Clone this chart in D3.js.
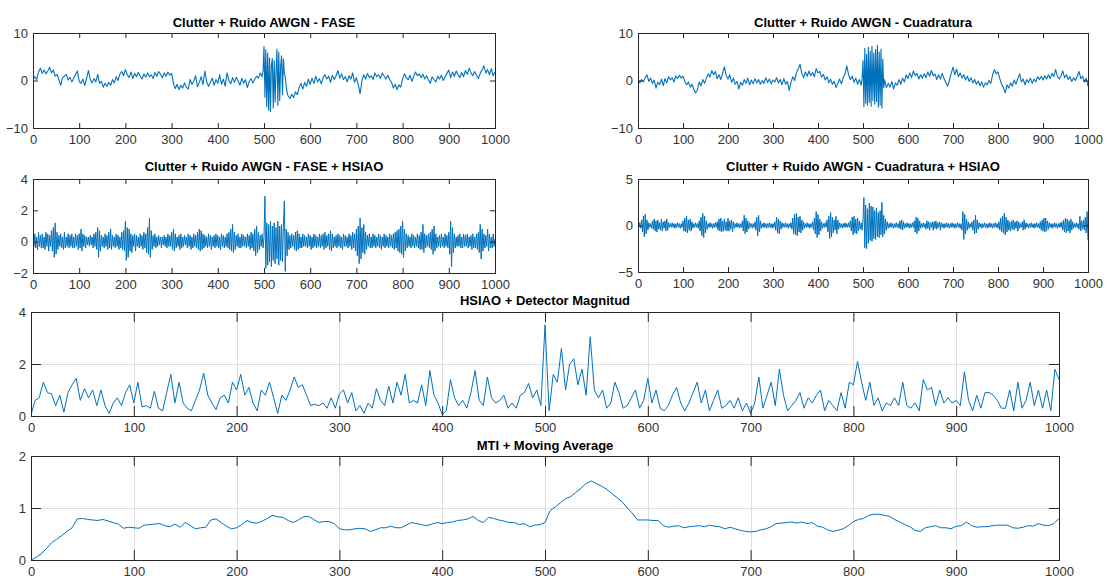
<!DOCTYPE html>
<html><head><meta charset="utf-8">
<script src="https://cdn.jsdelivr.net/npm/d3@7"></script>
<style>
body{margin:0;background:#fff}
svg{display:block}
text{font-family:"Liberation Sans",Arial,Helvetica,sans-serif}
</style>
</head><body>
<svg id="chart" width="1116" height="580"></svg>
<script>
// ---------- data ----------
const xTickVals = [0,100,200,300,400,500,600,700,800,900,1000];
const yTicksFase = [-10,0,10];
const yTicksCuad = [-10,0,10];
const yTicksFaseH = [-2,0,2,4];
const yTicksCuadH = [-5,0,5];
const yTicksMag = [0,2,4];
const yTicksMti = [0,1,2];

const titles = [
  "Clutter + Ruido AWGN - FASE",
  "Clutter + Ruido AWGN - Cuadratura",
  "Clutter + Ruido AWGN - FASE + HSIAO",
  "Clutter + Ruido AWGN - Cuadratura + HSIAO",
  "HSIAO + Detector Magnitud",
  "MTI + Moving Average"
];

// sample indices of the values below
const idxBurst = [...d3.range(0,496,4), ...d3.range(496,552,2), ...d3.range(552,1001,4)];
const idxStep2 = d3.range(0,1001,2);
const idxStep4 = d3.range(0,1001,4);
const idxStep5 = d3.range(0,1001,5);

const faseVals = [
 0.3,0.8,0.2,1.8,2.6,1.5,2.2,1.4,2.0,2.8,
 1.6,2.2,0.9,1.3,0.2,-1.0,0.6,0.9,1.3,0.1,
 0.7,-0.3,0.5,1.2,2.0,-0.2,-0.6,0.3,-1.1,0.5,
 2.1,0.2,-0.5,0.4,-0.3,1.3,-0.6,-0.2,-1.4,-0.6,
 -1.2,-0.4,-1.0,0.2,-0.5,0.8,0.0,1.3,1.9,1.0,
 2.3,1.2,0.6,1.8,0.4,1.5,0.8,1.7,0.9,0.3,
 1.4,0.7,1.6,0.8,1.2,0.4,1.7,0.9,1.9,1.3,
 0.6,1.6,0.9,1.8,1.1,1.5,-0.6,-1.7,-0.8,-1.9,
 -1.0,-1.6,-0.5,-1.4,-1.8,0.2,-0.8,-0.2,1.0,-1.3,
 -0.4,0.8,-0.9,2.0,-0.3,-1.2,-0.4,0.5,-1.0,0.2,
 -0.6,1.2,-0.8,0.3,-1.2,1.6,0.0,-0.7,0.6,-0.4,
 0.7,-0.1,-1.0,0.5,-0.6,0.2,-1.5,-0.2,0.4,-0.5,
 0.3,0.9,0.5,1.6,
 0.8,2.0,7.2,-3.5,6.5,-5.5,5.8,-6.2,4.8,-6.5,3.2,4.6,-5.8,4.2,-4.5,2.0,6.6,-5.2,6.0,-4.2,3.0,5.2,-3.0,4.5,1.5,0.8,-1.2,-2.5,
 -3.2,-3.8,-2.9,-3.6,-2.4,-3.0,-1.5,-0.6,-1.8,-0.4,
 -1.2,0.3,-0.8,0.5,-0.6,0.9,-0.3,0.4,-0.7,0.6,
 1.2,0.3,0.9,-0.4,1.1,0.2,1.0,2.1,0.5,1.4,
 0.2,0.8,-0.3,1.0,0.3,1.6,-0.4,0.6,-0.8,-2.8,
 0.0,1.2,0.3,1.5,0.6,1.0,0.2,1.6,0.8,1.2,
 0.4,1.6,0.9,0.3,1.1,0.2,-0.4,-1.6,-0.8,-1.9,
 -0.9,-1.4,0.3,1.4,0.6,0.2,1.1,-0.2,0.9,1.8,
 1.0,1.4,0.6,1.3,0.3,1.0,0.1,-0.6,0.8,0.2,
 -0.3,0.9,0.3,1.1,0.0,0.8,1.5,2.2,0.6,1.8,
 0.9,2.0,1.2,0.6,1.7,0.8,2.1,1.3,2.6,1.6,
 1.0,1.9,1.1,0.4,1.5,2.2,3.1,1.6,2.3,1.2,
 2.5,1.0,1.8
];

const cuadVals = [
 0.4,-0.5,0.2,-0.3,0.6,1.2,-0.2,0.5,-0.6,0.1,
 -1.6,-0.3,-0.9,0.3,-1.1,0.4,-0.5,0.8,0.1,0.6,
 -0.3,1.0,0.4,1.1,0.5,0.9,-0.2,-0.9,-0.3,-1.4,
 -0.8,-1.9,-2.6,-2.0,-0.3,-1.1,0.2,-0.6,0.5,1.4,
 0.7,2.1,1.2,1.9,0.4,1.2,0.2,1.5,2.9,1.0,
 0.3,1.2,-0.4,0.5,-0.8,-0.2,-1.8,-0.4,-1.0,0.2,
 -0.6,0.5,-0.9,0.1,-0.7,0.4,-0.5,0.2,-0.8,0.0,
 -0.6,0.6,-0.4,0.3,-0.7,0.1,-0.3,0.6,-0.5,0.2,
 -0.9,0.4,-0.8,-0.2,-2.1,-0.4,0.8,0.0,1.6,2.4,
 3.4,1.5,0.6,1.8,0.9,2.0,1.0,1.7,0.8,2.5,
 1.6,1.9,0.7,1.3,0.1,0.8,-0.5,0.3,-0.8,-0.2,
 -1.5,-0.6,0.3,-0.7,0.6,1.4,3.1,1.2,0.2,0.9,
 -0.4,0.5,-0.8,0.2,
 -1.0,0.5,4.2,-5.5,6.8,-4.8,5.5,-5.2,7.0,-4.6,6.2,-5.4,7.2,-4.2,5.8,-5.0,6.5,-4.4,7.4,-5.6,6.0,-5.2,6.6,-5.8,4.5,-1.5,0.2,-0.8,
 -1.5,-0.6,-1.4,-0.2,-1.8,-0.5,-1.0,0.2,-0.8,0.5,
 -0.3,1.2,0.4,1.6,0.6,2.0,1.0,1.5,0.3,1.2,
 0.5,1.4,0.6,1.8,0.9,2.1,1.0,1.4,0.2,1.2,
 0.3,1.5,0.4,-0.4,-1.2,0.0,1.5,2.8,1.2,2.4,
 0.8,1.6,0.5,1.2,0.1,0.9,-0.2,0.6,-0.5,0.2,
 -0.8,-0.1,-1.1,-0.3,-1.4,-0.5,-0.9,0.0,-0.6,1.2,
 2.3,1.4,1.8,0.4,-0.8,-1.5,-2.6,-0.9,-1.6,-0.5,
 -1.2,0.1,-0.8,0.4,1.4,-0.3,0.3,-0.9,0.2,-0.4,
 0.5,-0.6,0.3,-0.3,0.8,0.2,0.9,0.1,1.0,0.3,
 1.2,0.4,1.5,0.8,2.3,0.9,0.3,1.0,2.0,0.6,
 1.2,0.2,0.8,-0.2,0.6,0.0,0.9,1.9,0.4,0.9,
 -0.3,0.5,-1.2
];

// every 2 samples
const faseHsiaoVals = [
 0.4,-0.3,0.5,-0.4,0.3,-0.5,0.6,-0.3,0.4,-0.4,
 0.5,-0.4,0.3,-0.5,0.6,-0.3,0.5,-0.6,0.4,-0.3,
 0.7,-0.6,0.9,-1.0,1.2,-0.8,0.6,-0.5,0.4,-0.3,
 0.5,-0.4,0.3,-0.5,0.6,-0.4,0.3,-0.3,0.5,-0.4,
 0.4,-0.3,0.5,-0.4,0.3,-0.4,0.5,-0.3,0.4,-0.5,
 0.5,-0.4,0.8,-0.6,0.5,-0.3,0.4,-0.4,0.3,-0.2,
 0.3,-0.3,0.4,-0.2,0.3,-0.4,0.5,-0.3,0.6,-0.5,
 0.9,-1.0,0.7,-0.6,0.4,-0.3,0.3,-0.4,0.5,-0.3,
 0.4,-0.5,0.6,-0.4,0.8,-0.5,0.4,-0.3,0.3,-0.4,
 0.5,-0.3,0.4,-0.5,0.3,-0.4,0.6,-0.5,0.7,-0.6,
 1.3,-1.2,0.9,-1.0,0.8,-0.6,0.5,-0.7,0.4,-0.3,
 0.5,-0.6,0.4,-0.3,0.3,-0.4,0.5,-0.3,0.4,-0.5,
 0.6,-0.4,0.5,-0.7,0.9,-0.8,1.5,-1.0,0.7,-0.5,
 0.4,-0.3,0.5,-0.4,0.3,-0.3,0.4,-0.2,0.3,-0.4,
 0.3,-0.2,0.4,-0.3,0.3,-0.4,0.5,-0.3,0.4,-0.3,
 0.6,-0.5,0.8,-0.6,0.5,-0.4,0.3,-0.3,0.4,-0.5,
 0.5,-0.4,0.3,-0.3,0.4,-0.2,0.3,-0.4,0.5,-0.3,
 0.4,-0.5,0.3,-0.4,0.5,-0.3,0.4,-0.4,0.6,-0.5,
 0.8,-0.6,0.7,-0.5,0.5,-0.4,0.4,-0.3,0.3,-0.4,
 0.5,-0.3,0.4,-0.5,0.3,-0.3,0.4,-0.4,0.5,-0.3,
 0.4,-0.4,0.3,-0.5,0.5,-0.3,0.4,-0.4,0.3,-0.3,
 0.5,-0.4,0.6,-0.5,0.8,-0.6,1.1,-0.7,0.6,-0.5,
 0.4,-0.3,0.5,-0.4,0.3,-0.4,0.5,-0.3,0.4,-0.3,
 0.3,-0.4,0.5,-0.3,0.4,-0.5,0.6,-0.4,0.5,-0.6,
 0.8,-0.9,1.0,-0.7,0.6,-0.5,0.4,-0.3,0.5,-0.4,
 0.3,2.9,-1.7,1.2,-1.5,1.1,-1.3,1.3,-1.6,1.0,
 -1.2,1.2,-1.4,0.9,-1.1,1.3,-1.5,1.0,-1.2,1.1,
 -1.3,0.9,2.6,-1.9,0.8,-0.9,0.6,-0.5,0.4,-0.4,
 0.5,-0.3,0.4,-0.5,0.6,-0.6,0.7,-0.5,0.5,-0.4,
 0.3,-0.4,0.5,-0.3,0.4,-0.3,0.3,-0.4,0.5,-0.3,
 0.4,-0.5,0.3,-0.4,0.5,-0.3,0.4,-0.4,0.3,-0.3,
 0.5,-0.4,0.4,-0.3,0.5,-0.5,0.6,-0.4,0.4,-0.3,
 0.5,-0.5,0.7,-0.6,0.5,-0.4,0.3,-0.3,0.4,-0.4,
 0.5,-0.3,0.4,-0.4,0.3,-0.5,0.5,-0.3,0.4,-0.3,
 0.3,-0.4,0.5,-0.3,0.4,-0.5,0.6,-0.4,0.5,-0.6,
 0.8,-0.9,1.0,-1.4,1.5,-1.1,0.9,-0.7,1.1,-0.8,
 0.6,-0.5,0.4,-0.3,0.5,-0.4,0.3,-0.4,0.5,-0.3,
 0.4,-0.4,0.3,-0.3,0.5,-0.4,0.4,-0.5,0.3,-0.3,
 0.5,-0.4,0.4,-0.3,0.3,-0.4,0.5,-0.3,0.4,-0.4,
 0.5,-0.5,0.6,-0.4,0.7,-0.6,0.8,-0.7,1.0,-0.8,
 1.3,-1.0,0.8,-0.6,0.5,-0.4,0.4,-0.3,0.3,-0.4,
 0.5,-0.3,0.4,-0.4,0.3,-0.3,0.5,-0.4,0.4,-0.5,
 0.6,-0.5,1.1,-0.7,0.5,-0.4,0.4,-0.3,0.5,-0.4,
 0.6,-0.5,0.8,-0.8,1.0,-0.6,0.5,-0.4,0.3,-0.3,
 0.4,-0.4,0.5,-0.3,0.3,-0.4,0.5,-0.3,0.4,-0.4,
 0.6,-0.8,1.3,-1.6,0.9,-0.7,0.5,-0.4,0.3,-0.3,
 0.4,-0.3,0.5,-0.4,0.3,-0.4,0.5,-0.3,0.4,-0.3,
 0.5,-0.4,0.3,-0.3,0.4,-0.5,0.5,-0.4,0.3,-0.4,
 0.5,-0.5,0.6,-0.7,1.1,-1.1,0.8,-0.6,0.5,-0.4,
 0.4,-0.3,0.8,-0.6,0.5,-0.4,0.3,-0.4,0.5,-0.3,
 0.2
];

// every 2 samples
const cuadHsiaoVals = [
 0.2,-0.2,0.3,-0.3,0.6,-0.7,1.0,-1.2,1.2,-0.9,
 0.6,-0.5,0.3,-0.2,0.2,-0.3,0.5,-0.4,0.7,-0.6,
 0.5,-0.7,0.6,-0.4,0.3,-0.5,0.7,-0.6,0.4,-0.3,
 0.5,-0.6,0.7,-0.5,0.3,-0.2,0.2,-0.2,0.3,-0.2,
 0.2,-0.3,0.2,-0.2,0.3,-0.2,0.2,-0.3,0.2,-0.2,
 0.5,-0.6,0.8,-0.7,1.0,-0.8,0.6,-0.5,0.7,-0.6,
 0.4,-0.3,0.2,-0.2,0.3,-0.2,0.2,-0.3,0.5,-0.6,
 0.9,-1.1,1.3,-1.3,1.0,-0.8,0.5,-0.4,0.2,-0.2,
 0.3,-0.2,0.2,-0.3,0.2,-0.2,0.3,-0.2,0.4,-0.5,
 0.7,-0.6,0.8,-0.7,0.5,-0.6,0.7,-0.5,0.4,-0.6,
 0.8,-0.6,0.5,-0.4,0.6,-0.7,0.4,-0.3,0.2,-0.2,
 0.3,-0.2,0.2,-0.3,0.2,-0.2,0.5,-0.6,1.1,-0.9,
 0.8,-0.7,0.5,-0.4,0.3,-0.2,0.2,-0.3,0.2,-0.2,
 0.4,-0.5,0.9,-1.1,1.1,-0.7,0.5,-0.3,0.2,-0.2,
 0.3,-0.2,0.2,-0.3,0.2,-0.2,0.3,-0.2,0.2,-0.3,
 0.2,-0.2,0.4,-0.5,0.9,-0.8,0.7,-0.9,0.5,-0.4,
 0.3,-0.2,0.2,-0.2,0.3,-0.2,0.2,-0.3,0.2,-0.2,
 0.3,-0.4,0.8,-0.9,1.2,-1.0,1.3,-1.1,0.9,-0.7,
 1.0,-0.8,0.6,-0.5,0.4,-0.3,0.2,-0.2,0.3,-0.2,
 0.2,-0.3,0.2,-0.2,0.4,-0.5,0.8,-0.9,1.5,-1.3,
 1.2,-1.0,0.7,-0.6,0.4,-0.3,0.2,-0.2,0.3,-0.2,
 0.6,-0.7,1.0,-1.4,1.4,-1.2,0.9,-0.8,0.6,-0.5,
 1.0,-0.9,0.6,-0.4,0.3,-0.2,0.2,-0.3,0.2,-0.2,
 0.3,-0.2,0.2,-0.2,0.3,-0.2,0.5,-0.6,0.9,-1.0,
 1.0,-0.8,0.7,-0.9,0.8,-0.6,0.5,-0.4,0.3,-0.5,
 0.6,3.0,-2.4,2.2,-2.5,1.8,-1.9,2.4,-1.6,2.1,
 -1.7,2.0,-1.4,1.6,-1.5,1.9,-1.2,1.4,-1.3,1.6,
 -1.0,2.5,-1.2,1.1,-0.9,0.7,-0.5,0.4,-0.3,0.2,
 -0.2,0.3,-0.2,0.2,-0.3,0.2,-0.2,0.3,-0.2,0.2,
 -0.3,0.5,-0.4,0.6,-0.5,0.4,-0.3,0.2,-0.2,0.3,
 -0.2,0.2,-0.3,0.2,-0.2,0.3,-0.2,0.5,-0.7,0.9,
 -0.9,0.8,-0.6,0.5,-0.3,0.2,-0.2,0.3,-0.2,0.2,
 -0.4,0.5,-0.3,0.4,-0.5,0.3,-0.2,0.4,-0.5,0.4,
 -0.3,0.5,-0.4,0.3,-0.2,0.4,-0.5,0.3,-0.2,0.2,
 -0.3,0.2,-0.2,0.3,-0.2,0.2,-0.3,0.2,-0.2,0.3,
 -0.2,0.2,-0.3,0.2,-0.2,0.3,-0.2,0.2,-0.3,0.2,
 -0.5,1.5,-1.5,1.2,-0.9,0.7,-0.5,0.4,-0.3,0.2,
 -0.2,0.4,-0.5,0.6,-0.9,1.1,-0.8,0.6,-0.4,0.3,
 -0.2,0.2,-0.3,0.2,-0.2,0.3,-0.2,0.2,-0.3,0.2,
 -0.2,0.3,-0.2,0.2,-0.3,0.2,-0.2,0.3,-0.2,0.2,
 -0.3,0.4,-0.5,0.8,-0.7,1.0,-0.8,1.3,-1.0,0.9,
 -0.7,0.6,-0.5,0.4,-0.6,0.5,-0.4,0.6,-0.5,0.4,
 -0.3,0.5,-0.6,0.4,-0.3,0.2,-0.2,0.4,-0.5,0.6,
 -0.4,0.3,-0.2,0.2,-0.3,0.2,-0.2,0.3,-0.2,0.2,
 -0.3,0.2,-0.2,0.3,-0.2,0.2,-0.3,0.4,-0.5,0.6,
 -0.6,0.8,-0.7,0.8,-0.6,0.5,-0.4,0.3,-0.2,0.2,
 -0.3,0.2,-0.2,0.3,-0.2,0.2,-0.3,0.2,-0.2,0.3,
 -0.2,0.4,-0.5,0.6,-0.7,0.8,-0.8,0.7,-0.6,0.5,
 -0.8,0.7,-0.5,0.4,-0.3,0.2,-0.2,0.3,-0.2,0.2,
 -0.4,1.0,-0.6,0.5,-0.4,0.6,-0.5,0.9,-0.8,1.5,
 -1.6
];

// every 4 samples
const magVals = [
 0.05,0.6,0.7,1.3,0.9,0.85,0.4,0.8,0.15,0.9,
 1.2,1.45,0.6,1.05,0.7,1.0,0.4,1.0,0.4,0.1,
 0.5,0.7,0.4,0.9,1.2,0.5,1.3,0.35,0.4,0.3,
 0.95,0.3,0.2,0.9,1.6,0.5,1.3,0.5,0.3,0.2,
 0.6,1.0,1.65,0.8,0.5,0.25,0.7,0.8,0.5,1.3,
 1.0,1.6,0.8,1.1,0.5,0.2,1.0,0.8,1.3,0.7,
 0.1,0.8,0.6,1.0,1.5,1.1,1.2,0.8,0.4,0.45,
 0.4,0.5,0.3,0.7,0.3,0.85,1.0,0.5,0.9,0.2,
 0.4,0.1,0.5,0.3,1.05,0.6,0.4,1.15,0.5,1.3,
 0.8,1.6,0.5,0.6,0.5,1.2,0.4,1.75,0.8,0.5,
 0.05,0.2,1.4,0.7,0.4,0.6,0.3,0.9,1.75,0.6,
 0.4,1.5,0.7,0.5,0.6,0.8,0.3,0.5,0.3,0.8,
 0.9,1.25,0.7,1.0,0.4,3.5,0.2,1.6,1.3,2.6,
 1.0,2.0,2.2,1.2,1.8,0.8,3.05,1.0,0.7,1.0,
 0.3,0.5,1.3,0.9,0.3,0.4,0.7,1.0,0.3,0.6,
 1.45,0.5,1.0,0.3,0.2,0.4,0.8,1.1,0.5,0.2,
 0.5,0.9,1.3,0.5,1.0,0.2,0.6,1.0,0.3,0.4,
 0.6,0.3,0.7,0.2,0.5,0.1,0.5,1.5,0.3,0.8,
 1.3,0.4,1.8,0.8,0.2,0.4,0.6,0.9,0.3,0.7,
 0.5,0.8,1.0,0.2,0.6,0.4,0.2,0.9,0.3,1.3,
 1.2,2.1,1.3,0.6,1.3,0.4,0.7,0.2,0.5,0.4,
 0.7,0.4,1.3,0.4,0.3,0.5,0.2,1.4,1.0,1.1,
 0.4,1.0,0.5,0.7,0.5,0.6,0.4,1.7,0.6,0.2,
 0.8,0.3,0.9,0.9,0.8,0.6,0.3,0.3,1.0,0.2,
 1.3,0.3,0.6,1.3,0.4,1.0,0.3,1.0,0.2,1.8,
 1.4
];

// every 5 samples
const mtiVals = [
 0.0,0.05,0.12,0.22,0.33,0.4,0.47,0.55,0.62,0.79,
 0.8,0.78,0.77,0.76,0.78,0.75,0.72,0.69,0.61,0.63,
 0.62,0.61,0.67,0.68,0.69,0.7,0.66,0.64,0.69,0.63,
 0.72,0.66,0.6,0.62,0.63,0.77,0.79,0.72,0.65,0.6,
 0.62,0.68,0.76,0.72,0.71,0.75,0.8,0.86,0.83,0.82,
 0.76,0.72,0.77,0.83,0.84,0.78,0.72,0.74,0.74,0.7,
 0.6,0.58,0.58,0.6,0.61,0.6,0.55,0.58,0.62,0.62,
 0.65,0.62,0.62,0.67,0.72,0.7,0.68,0.66,0.69,0.72,
 0.7,0.72,0.73,0.76,0.77,0.79,0.84,0.76,0.72,0.82,
 0.8,0.77,0.75,0.72,0.72,0.68,0.7,0.64,0.67,0.68,
 0.72,0.95,1.02,1.1,1.18,1.22,1.3,1.38,1.47,1.52,
 1.47,1.42,1.36,1.28,1.2,1.12,1.0,0.9,0.77,0.77,
 0.77,0.76,0.76,0.66,0.63,0.65,0.66,0.62,0.64,0.65,
 0.66,0.64,0.67,0.65,0.64,0.6,0.63,0.6,0.57,0.55,
 0.54,0.55,0.58,0.6,0.64,0.7,0.71,0.72,0.73,0.71,
 0.73,0.7,0.72,0.65,0.63,0.58,0.55,0.57,0.6,0.66,
 0.74,0.78,0.8,0.86,0.88,0.88,0.86,0.84,0.78,0.73,
 0.68,0.64,0.57,0.55,0.62,0.64,0.66,0.62,0.62,0.6,
 0.65,0.66,0.73,0.66,0.63,0.64,0.64,0.66,0.67,0.67,
 0.67,0.62,0.61,0.63,0.66,0.65,0.7,0.67,0.66,0.7,
 0.8
];

// ---------- layout ----------
const panels = [
 {t:titles[0], l:33, r:495, top:33, b:128, dom:[-10,10], yt:yTicksFase, idx:idxBurst, v:faseVals, tick:5, grid:false, ty:27, sw:1.1},
 {t:titles[1], l:638, r:1088, top:33, b:128, dom:[-10,10], yt:yTicksCuad, idx:idxBurst, v:cuadVals, tick:5, grid:false, ty:27, sw:1.1},
 {t:titles[2], l:33, r:495, top:179, b:273, dom:[-2,4], yt:yTicksFaseH, idx:idxStep2, v:faseHsiaoVals, tick:5, grid:false, ty:171, sw:1},
 {t:titles[3], l:638, r:1088, top:179, b:272, dom:[-5,5], yt:yTicksCuadH, idx:idxStep2, v:cuadHsiaoVals, tick:5, grid:false, ty:171, sw:1},
 {t:titles[4], l:31, r:1059, top:312, b:416, dom:[0,4], yt:yTicksMag, idx:idxStep4, v:magVals, tick:10, grid:true, ty:305, sw:1},
 {t:titles[5], l:31, r:1059, top:456, b:560, dom:[0,2], yt:yTicksMti, idx:idxStep5, v:mtiVals, tick:10, grid:true, ty:450, sw:1}
];

const svg = d3.select("#chart");
const axisCol = "#262626";
const lineCol = "#0072BD";

panels.forEach((p, k) => {
  const x = d3.scaleLinear().domain([0,1000]).range([p.l, p.r]);
  const y = d3.scaleLinear().domain(p.dom).range([p.b, p.top]);
  const g = svg.append("g");
  const n = Math.min(p.idx.length, p.v.length);
  if (p.idx.length !== p.v.length) console.warn("length mismatch panel", k, p.idx.length, p.v.length);
  const pts = d3.range(n).map(i => [p.idx[i], p.v[i]]);

  if (p.grid) {
    g.append("g").selectAll("line").data(xTickVals.slice(1,-1)).join("line")
      .attr("x1", d => Math.round(x(d))+0.5).attr("x2", d => Math.round(x(d))+0.5)
      .attr("y1", p.top).attr("y2", p.b).attr("stroke", "#dedede").attr("stroke-width", 1);
    g.append("g").selectAll("line").data(p.yt.slice(1,-1)).join("line")
      .attr("y1", d => Math.round(y(d))+0.5).attr("y2", d => Math.round(y(d))+0.5)
      .attr("x1", p.l).attr("x2", p.r).attr("stroke", "#dedede").attr("stroke-width", 1);
  }

  const clipId = "clip" + k;
  svg.append("clipPath").attr("id", clipId).append("rect")
    .attr("x", p.l).attr("y", p.top).attr("width", p.r - p.l).attr("height", p.b - p.top);

  g.append("path").datum(pts)
    .attr("clip-path", `url(#${clipId})`)
    .attr("fill", "none").attr("stroke", lineCol).attr("stroke-width", p.sw)
    .attr("stroke-linejoin", "round")
    .attr("d", d3.line().x(d => x(d[0])).y(d => y(d[1])));

  const fs = "13px";
  const bottom = g.append("g").attr("transform", `translate(0,${p.b})`)
    .call(d3.axisBottom(x).tickValues(xTickVals).tickSize(-p.tick).tickPadding(7).tickFormat(d3.format("d")));
  const top = g.append("g").attr("transform", `translate(0,${p.top})`)
    .call(d3.axisTop(x).tickValues(xTickVals).tickSize(-p.tick).tickFormat(""));
  const left = g.append("g").attr("transform", `translate(${p.l},0)`)
    .call(d3.axisLeft(y).tickValues(p.yt).tickSize(-p.tick).tickPadding(5).tickFormat(d3.format("d")));
  const right = g.append("g").attr("transform", `translate(${p.r},0)`)
    .call(d3.axisRight(y).tickValues(p.yt).tickSize(-p.tick).tickFormat(""));
  [bottom, top, left, right].forEach(a => {
    a.select(".domain").remove();
    a.selectAll("line").attr("stroke", axisCol);
    a.selectAll("text").attr("fill", "#333").style("font-size", fs)
      .style("font-family", '"Liberation Sans", Arial, Helvetica, sans-serif');
  });

  g.append("rect").attr("x", p.l + 0.5).attr("y", p.top + 0.5)
    .attr("width", p.r - p.l).attr("height", p.b - p.top)
    .attr("fill", "none").attr("stroke", axisCol).attr("stroke-width", 1);

  g.append("text").attr("x", (p.l + p.r) / 2).attr("y", p.ty)
    .attr("text-anchor", "middle").attr("font-weight", "bold").attr("font-size", 13)
    .attr("fill", "#000").text(p.t);
});
</script>
</body></html>
